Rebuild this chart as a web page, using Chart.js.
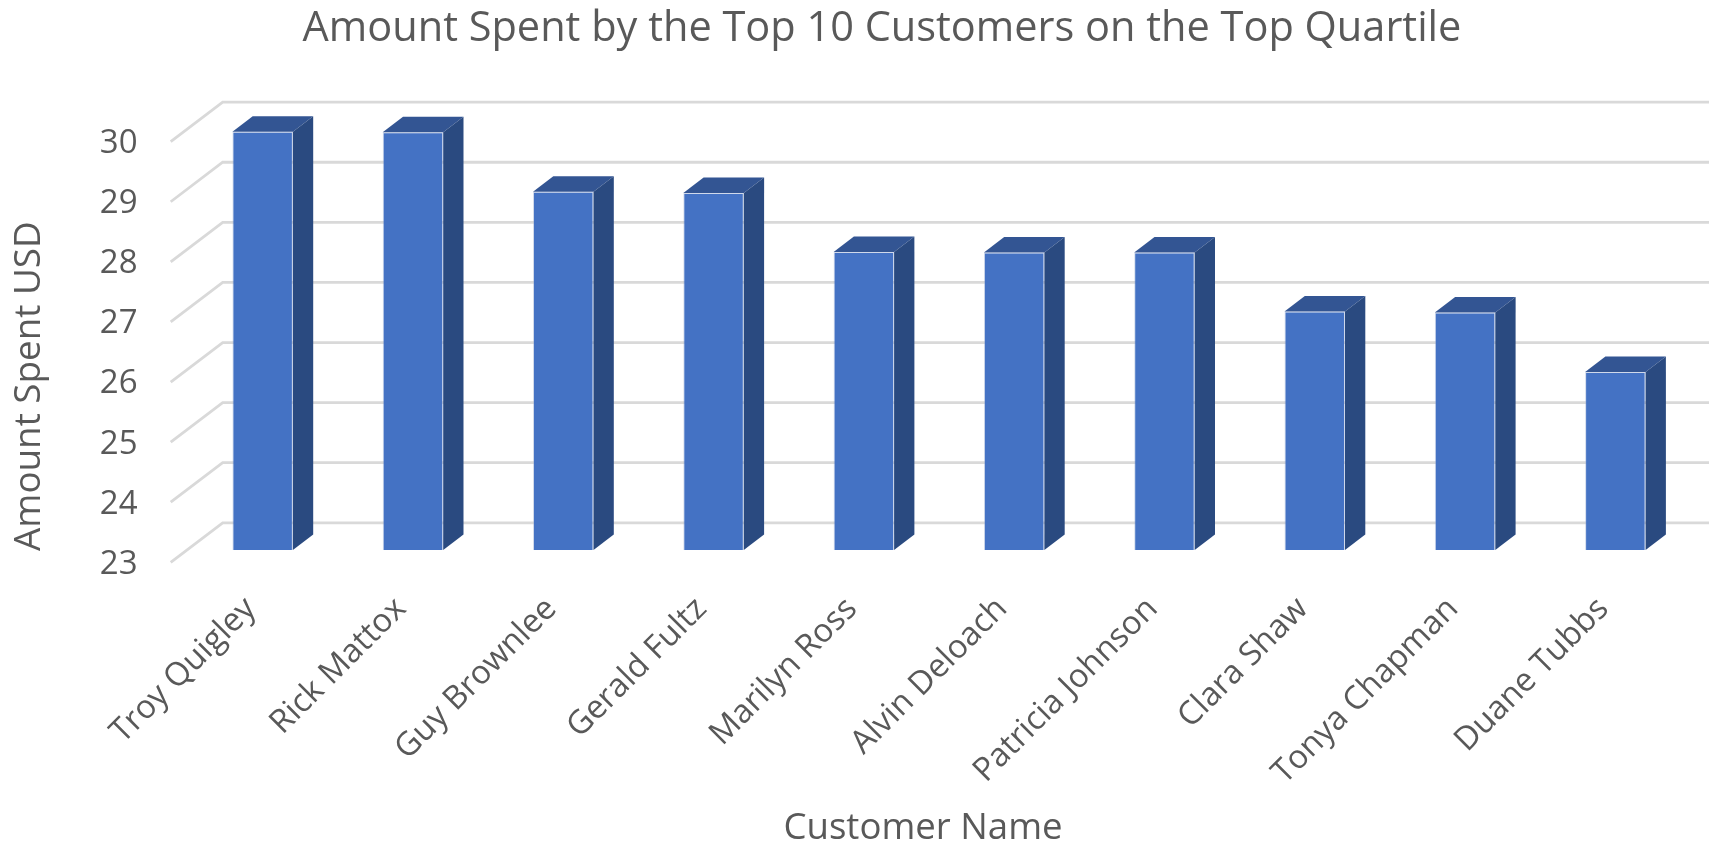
<!DOCTYPE html>
<html><head><meta charset="utf-8">
<style>html,body{margin:0;padding:0;background:#fff}canvas{display:block}</style>
<script src="https://cdn.jsdelivr.net/npm/chart.js@4"></script>
</head><body><canvas id="c" width="1709" height="844"></canvas>
<script>
const categories = ["Troy Quigley","Rick Mattox","Guy Brownlee","Gerald Fultz","Marilyn Ross","Alvin Deloach","Patricia Johnson","Clara Shaw","Tonya Chapman","Duane Tubbs"];
const amountSpent = [29.96,29.95,28.96,28.94,27.96,27.95,27.95,26.97,26.95,25.96];
const yTicks = [23,24,25,26,27,28,29,30];
const titleText = "Amount Spent by the Top 10 Customers on the Top Quartile";
const xTitleText = "Customer Name";
const yTitleText = "Amount Spent USD";
const FONT = '"Open Sans"';
const TEXT = '#595959';

const box3d = {
  id:'box3d',
  afterLayout(chart){
    const shift=(s,dx,dy)=>{ if(s._sh) return; s._sh=1; const d=s.drawTitle;
      s.drawTitle=function(){const c=this.ctx;c.save();c.translate(dx,dy);d.call(this);c.restore();}; };
    shift(chart.scales.x,-16,7);
    shift(chart.scales.y,7,54);
    if(!chart._tm){chart._tm=1; chart.titleBlock.left+=73.5;}
  },
  beforeDatasetsDraw(chart){
    const {ctx,scales:{y},width}=chart;
    ctx.save();
    ctx.strokeStyle='#D9D9D9';ctx.lineWidth=2.8;
    yTicks.forEach(v=>{
      const py=y.getPixelForValue(v);
      ctx.beginPath();
      ctx.moveTo(170.7,py);
      ctx.lineTo(222.7,py-39.5);
      ctx.lineTo(width,py-39.5);
      ctx.stroke();
    });
    ctx.restore();
  },
  afterDatasetsDraw(chart){
    const {ctx}=chart;
    const dx=20.3,dy=15.5;
    ctx.save();
    chart.getDatasetMeta(0).data.forEach(b=>{
      const l=b.x-b.width/2,r=b.x+b.width/2,t=b.y,bt=b.base;
      ctx.fillStyle='#335593';
      ctx.beginPath();ctx.moveTo(l,t);ctx.lineTo(l+dx,t-dy);ctx.lineTo(r+dx,t-dy);ctx.lineTo(r,t);ctx.closePath();ctx.fill();
      ctx.fillStyle='#2A4A80';
      ctx.beginPath();ctx.moveTo(r,t);ctx.lineTo(r+dx,t-dy);ctx.lineTo(r+dx,bt-dy);ctx.lineTo(r,bt);ctx.closePath();ctx.fill();
    });
    ctx.restore();
  }
};

new Chart(document.getElementById('c'),{
  type:'bar',
  data:{labels:categories,datasets:[{label:'Amount Spent USD',data:amountSpent,yAxisID:'yBar',base:23,clip:false,
    backgroundColor:'#4472C4',borderColor:'rgba(150,170,210,0.45)',borderWidth:1,
    categoryPercentage:0.4025,barPercentage:1}]},
  plugins:[box3d],
  options:{
    responsive:false,animation:false,devicePixelRatio:1,
    layout:{padding:{left:0,right:18.5,top:0,bottom:0}},
    plugins:{
      legend:{display:false},tooltip:{enabled:false},
      title:{display:true,text:titleText,color:TEXT,font:{family:FONT,size:41.5,weight:'normal',lineHeight:1.2},padding:{top:4.5,bottom:47.7}}
    },
    scales:{
      x:{
        grid:{display:false},border:{display:false},
        ticks:{color:TEXT,font:{family:FONT,size:32.6},minRotation:45,maxRotation:45,padding:19.5,labelOffset:-12,autoSkip:false},
        title:{display:true,text:xTitleText,color:TEXT,font:{family:FONT,size:36.6},padding:{top:0,bottom:0}},
        afterFit(s){s.height=281.7;}
      },
      y:{
        min:23,max:30.66,
        grid:{display:false,drawTicks:false},border:{display:false},
        afterBuildTicks(s){s.ticks=yTicks.map(v=>({value:v}));},
        ticks:{color:TEXT,font:{family:FONT,size:33},padding:50,labelOffset:2},
        title:{display:true,text:yTitleText,color:TEXT,font:{family:FONT,size:36.8},padding:{top:0,bottom:0}},
        afterFit(s){s.width=187.5;}
      },
      yBar:{display:false,position:'left',min:22.795,max:30.455}
    }
  }
});
</script></body></html>
